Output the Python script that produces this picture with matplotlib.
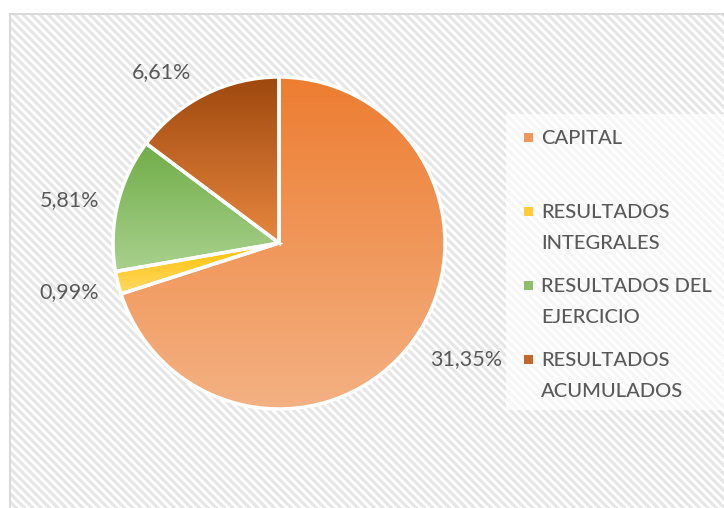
import matplotlib
matplotlib.use('Agg')
import matplotlib.pyplot as plt
import numpy as np
from matplotlib.patches import Rectangle
from matplotlib.colors import to_rgb

categories = ['CAPITAL', 'RESULTADOS\nINTEGRALES', 'RESULTADOS DEL\nEJERCICIO', 'RESULTADOS\nACUMULADOS']
values = [31.35, 0.99, 5.81, 6.61]
top_colors = ['#ED7D31', '#FFC000', '#70AD47', '#9E480E']
bottom_colors = ['#F4B183', '#FFD966', '#A9D18E', '#E8873F']
pct_labels = [('%.2f%%' % v).replace('.', ',') for v in values]
# nudges (px, right / down) for the percentage labels
label_nudge = [(13, -11), (0, -3), (0, 7), (-21, 22)]

plt.rcParams['font.family'] = ['Lato', 'DejaVu Sans']
plt.rcParams['hatch.linewidth'] = 2.3

W, H = 724, 508
fig = plt.figure(figsize=(W / 100, H / 100), dpi=100)
ax = fig.add_axes([0, 0, 1, 1])

# chart area: hatched background and grey border
ax.add_patch(Rectangle((10, -10), W, H - 14 + 10, facecolor='white',
                       edgecolor='#e6e6e6', hatch='\\\\\\\\', lw=0, zorder=0))
ax.add_patch(Rectangle((10, -10), W, H - 14 + 10, facecolor='none',
                       edgecolor='#d9d9d9', lw=1.5, zorder=1))
# legend area
ax.add_patch(Rectangle((506, H - 410), W, 296, facecolor='white',
                       edgecolor='none', alpha=0.65, zorder=1))

cx, cy, r = 279, H - 243, 166
wedges, texts = ax.pie(values, center=(cx, cy), radius=r, startangle=90,
                       counterclock=False, labels=pct_labels, labeldistance=1.3,
                       wedgeprops=dict(edgecolor='white', linewidth=2.5, facecolor='none'),
                       textprops=dict(color='#595959', fontsize=15.5,
                                      ha='center', va='center'))

for t, (dx, dy) in zip(texts, label_nudge):
    x, y = t.get_position()
    t.set_position((x + dx, y - dy))

for w, c0, c1 in zip(wedges, top_colors, bottom_colors):
    w.set_zorder(3)
    bb = w.get_path().get_extents()
    grad = np.linspace(to_rgb(c0), to_rgb(c1), 256).reshape(256, 1, 3)
    im = ax.imshow(grad, extent=(bb.x0, bb.x1, bb.y0, bb.y1), origin='upper',
                   aspect='auto', zorder=2, interpolation='bilinear')
    im.set_clip_path(w)

# legend drawn by hand so the marker sits on the first text line
for i, (lab, c0, c1) in enumerate(zip(categories, top_colors, bottom_colors)):
    y = H - (140 + 74 * i)
    mid = tuple((np.array(to_rgb(c0)) + np.array(to_rgb(c1))) / 2)
    ax.add_patch(Rectangle((524, y - 2), 9, 9, facecolor=mid, edgecolor='none', zorder=4))
    ax.text(541, y + 10, lab, color='#595959', fontsize=14.5, ha='left', va='top',
            linespacing=2.0, fontweight='medium', zorder=4)

ax.set_xlim(0, W)
ax.set_ylim(0, H)
ax.set_aspect('auto')
ax.axis('off')

fig.savefig('out.png', dpi=100)
